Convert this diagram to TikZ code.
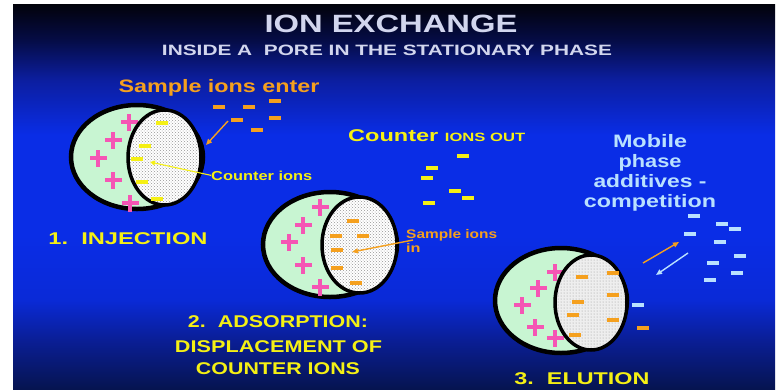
\documentclass[tikz,border=0pt]{standalone}
\usepackage{fontspec}
\setmainfont{Liberation Sans}
\usetikzlibrary{patterns,arrows.meta}

% palette
\definecolor{ttl}{RGB}{210,214,238}
\definecolor{orng}{RGB}{245,160,30}
\definecolor{yel}{RGB}{245,240,20}
\definecolor{lblue}{RGB}{185,225,255}
\definecolor{mint}{RGB}{200,245,210}
\definecolor{pinkp}{RGB}{245,85,180}
\definecolor{dotgray}{RGB}{150,150,150}
\definecolor{porefill}{RGB}{238,238,238}
\definecolor{bgA}{RGB}{6,20,80}
\definecolor{bgB}{RGB}{10,30,150}
\definecolor{bgC}{RGB}{10,42,215}
\definecolor{bgD}{RGB}{10,45,230}
\definecolor{bgE}{RGB}{12,30,160}
\definecolor{bgF}{RGB}{5,12,70}
\definecolor{bgG}{RGB}{2,2,10}

% slide background: dark at the top, bright blue in the middle, navy at the bottom
\pgfdeclareverticalshading{slidebg}{100bp}{%
  color(0bp)=(bgA); color(25bp)=(bgA); color(31.4bp)=(bgB); color(36.6bp)=(bgC);
  color(45bp)=(bgD); color(58bp)=(bgD); color(65.1bp)=(bgE); color(70.3bp)=(bgF);
  color(75bp)=(bgG); color(100bp)=(bgG)}

% text stretched to a given width at a given font size
\newcommand\wfit[3]{\resizebox{#1pt}{\height}{\fontsize{#2}{#2}\selectfont #3}}

\tikzset{
  txt/.style={font=\bfseries, inner sep=0pt},
  iondash/.style={rectangle, minimum width=12pt, minimum height=4pt, inner sep=0pt},
  odash/.style={iondash, fill=orng},
  ydash/.style={iondash, fill=yel},
  bdash/.style={iondash, fill=lblue},
  outerpore/.style={fill=mint, draw=black, line width=4.5pt},
  innerpore/.style={fill=white, draw=black, line width=3.5pt},
  plusion/.pic={
    \fill[pinkp] (-8.5,-2.4) rectangle (8.5,2.4);
    \fill[pinkp] (-2.4,-8.5) rectangle (2.4,8.5);
  },
  orarrow/.style={draw=orng, line width=1.4pt, -{Triangle[length=6pt,width=5pt]}},
  yarrow/.style={draw=yel, line width=1.1pt, -{Triangle[length=5pt,width=5pt]}},
  blarrow/.style={draw=lblue, line width=1.4pt, -{Triangle[length=6pt,width=5pt]}},
}

\begin{document}
\begin{tikzpicture}[x=1pt,y=-1pt]
\useasboundingbox (0,0) rectangle (779,389);
\fill[white] (0,0) rectangle (779,389);
\shade[shading=slidebg] (13,4) rectangle (775,389);

% headings
\node[txt, text=ttl] (title) at (391,24) {\wfit{253}{25}{ION EXCHANGE}};
\node[txt, text=ttl] (subtitle) at (387,50) {\wfit{450}{15}{INSIDE A\ \ PORE IN THE STATIONARY PHASE}};

% ---------- 1. injection ----------
\node[txt, text=orng, anchor=base] (enter) at (219,92) {\wfit{201}{18}{Sample ions enter}};
\node[odash] (s1) at (219,107) {};
\node[odash] (s2) at (249,107) {};
\node[odash] (s3) at (275,101) {};
\node[odash] (s4) at (237,120) {};
\node[odash] (s5) at (275,118) {};
\node[odash] (s6) at (257,130) {};

\path[outerpore] (137,157) ellipse [x radius=66, y radius=52];
\pic at (129,122) {plusion};
\pic at (113,140) {plusion};
\pic at (98,158) {plusion};
\pic at (113,180) {plusion};
\pic at (130,203) {plusion};
\path[innerpore] (164.5,157.5) ellipse [x radius=36.5, y radius=47.5];
\fill[pattern=crosshatch dots, pattern color=dotgray] (164.5,157.5) ellipse [x radius=34.5, y radius=45.5];
\node[ydash] (y1) at (162,123) {};
\node[ydash] (y2) at (145,146) {};
\node[ydash] (y3) at (137,159) {};
\node[ydash] (y4) at (142,182) {};
\node[ydash] (y5) at (157,199) {};

\coordinate (inj1) at (228,121);
\coordinate (inj2) at (206,145);
\draw[orarrow] (inj1) -- (inj2);

\node[txt, text=yel, anchor=base west] (ctrlbl) at (211,180) {\wfit{101}{13}{Counter ions}};
\coordinate (ctrtip) at (150,162);
\draw[yarrow] (ctrlbl.west) -- (ctrtip);

\node[txt, text=yel] (step1) at (128,238.5) {\wfit{159}{17}{1.\ \ INJECTION}};

% ---------- counter ions leaving ----------
\node[txt, text=yel, anchor=base west] (ctrout) at (348,141)
  {\resizebox{177pt}{\height}{\fontsize{17}{17}\selectfont Counter \fontsize{12}{12}\selectfont IONS OUT}};
\node[ydash] (c1) at (463,156) {};
\node[ydash] (c2) at (432,168) {};
\node[ydash] (c3) at (427,178) {};
\node[ydash] (c4) at (455,191) {};
\node[ydash] (c5) at (468,198) {};
\node[ydash] (c6) at (429,203) {};

% ---------- 2. adsorption ----------
\path[outerpore] (330,244.5) ellipse [x radius=67, y radius=52.5];
\pic at (320,207) {plusion};
\pic at (303,225) {plusion};
\pic at (289,242) {plusion};
\pic at (303,265) {plusion};
\pic at (320,287) {plusion};
\path[innerpore] (359.5,245) ellipse [x radius=37.5, y radius=48];
\fill[pattern=crosshatch dots, pattern color=dotgray] (359.5,245) ellipse [x radius=35.5, y radius=46];
\node[odash] (a1) at (353,221) {};
\node[odash] (a2) at (336,236) {};
\node[odash] (a3) at (363,236) {};
\node[odash] (a4) at (337,250) {};
\node[odash] (a5) at (337,268) {};
\node[odash] (a6) at (356,283) {};

\node[txt, text=orng, anchor=base west] (inlbl) at (406,238) {\wfit{91}{12.5}{Sample ions}};
\node[txt, text=orng, anchor=base west] (inlbl2) at (406,252) {\scalebox{1.3}[1]{\fontsize{12.5}{12.5}\selectfont in}};
\coordinate (adsA) at (413,240);
\coordinate (adsB) at (352,252);
\draw[orarrow] (adsA) -- (adsB);

\node[txt, text=yel] (step2a) at (278,322) {\wfit{180}{17}{2.\ \ ADSORPTION:}};
\node[txt, text=yel] (step2b) at (278.5,347) {\wfit{207}{17}{DISPLACEMENT OF}};
\node[txt, text=yel] (step2c) at (278,369) {\wfit{164}{17}{COUNTER IONS}};

% ---------- 3. elution ----------
\node[txt, text=lblue, anchor=base] (mob1) at (650,147) {\wfit{74}{18}{Mobile}};
\node[txt, text=lblue, anchor=base] (mob2) at (650,167) {\wfit{63}{18}{phase}};
\node[txt, text=lblue, anchor=base] (mob3) at (650,187) {\wfit{113}{18}{additives -}};
\node[txt, text=lblue, anchor=base] (mob4) at (650,207) {\wfit{132}{18}{competition}};

\node[bdash] (m1) at (694,216) {};
\node[bdash] (m2) at (722,224) {};
\node[bdash] (m3) at (735,229) {};
\node[bdash] (m4) at (690,234) {};
\node[bdash] (m5) at (720,242) {};
\node[bdash] (m6) at (740,256) {};
\node[bdash] (m7) at (713,263) {};
\node[bdash] (m8) at (737,273) {};
\node[bdash] (m9) at (710,280) {};

\coordinate (outA) at (643,263);
\coordinate (outB) at (679,242);
\draw[orarrow] (outA) -- (outB);
\coordinate (inA) at (688,253);
\coordinate (inB) at (656,275);
\draw[blarrow] (inA) -- (inB);

\path[outerpore] (561,300.5) ellipse [x radius=66, y radius=52.5];
\pic at (555,272) {plusion};
\pic at (538,288) {plusion};
\pic at (522,305) {plusion};
\pic at (535,327) {plusion};
\pic at (555,338) {plusion};
\path[innerpore, fill=porefill] (591,302.5) ellipse [x radius=36, y radius=47.5];
\fill[pattern=dots, pattern color=dotgray] (591,302.5) ellipse [x radius=34, y radius=45.5];
\node[odash] (e1) at (582,277) {};
\node[odash] (e2) at (613,273) {};
\node[odash] (e3) at (613,295) {};
\node[odash] (e4) at (578,302) {};
\node[odash] (e5) at (573,315) {};
\node[odash] (e6) at (613,320) {};
\node[odash] (e7) at (575,335) {};
\node[bdash] (e8) at (638,305) {};
\node[odash] (e9) at (643,328) {};

\node[txt, text=yel] (step3) at (582,379) {\wfit{135}{17}{3.\ \ ELUTION}};
\end{tikzpicture}
\end{document}
